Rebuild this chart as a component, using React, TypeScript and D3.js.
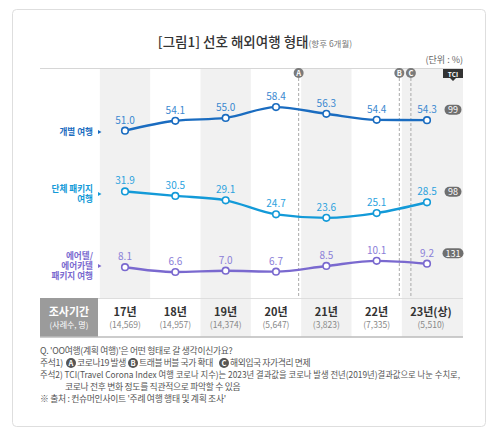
import React, { useRef, useEffect } from 'react';
import * as d3 from 'd3';

const years = ['17년', '18년', '19년', '20년', '21년', '22년', '23년(상)'];
const samples = ['(14,569)', '(14,957)', '(14,374)', '(5,647)', '(3,823)', '(7,335)', '(5,510)'];
const individual = [51.0, 54.1, 55.0, 58.4, 56.3, 54.4, 54.3];
const groupPackage = [31.9, 30.5, 29.1, 24.7, 23.6, 25.1, 28.5];
const airtel = [8.1, 6.6, 7.0, 6.7, 8.5, 10.1, 9.2];
const tci = ['99', '98', '131'];
const seriesNames = [['개별 여행'], ['단체 패키지', '여행'], ['에어텔/', '에어카텔', '패키지 여행']];
const events = [
  { label: 'A', pos: 3.45 },
  { label: 'B', pos: 5.45 },
  { label: 'C', pos: 5.68 },
];
const notes = [
  "Q. 'OO여행(계획 여행)'은 어떤 형태로 갈 생각이신가요?",
  '주석2) TCI(Travel Corona Index 여행 코로나 지수)는 2023년 결과값을 코로나 발생 전년(2019년)결과값으로 나눈 수치로,',
  '코로나 전후 변화 정도를 직관적으로 파악할 수 있음',
  "※ 출처 : 컨슈머인사이트 '주례 여행 행태 및 계획 조사'",
];
const footnote1 = [
  { letter: 'A', text: '코로나19 발생' },
  { letter: 'B', text: '트래블 버블 국가 확대' },
  { letter: 'C', text: '해외입국 자가격리 면제' },
];

const FONT = "'Noto Sans CJK KR', 'Noto Sans', sans-serif";

const App: React.FC = () => {
  const svgRef = useRef<SVGSVGElement>(null);
  const width = 500;
  const height = 429;

  useEffect(() => {
    if (!svgRef.current) return;
    const svg = d3.select(svgRef.current);
    svg.selectAll('*').remove();
    svg.style('font-family', FONT);

    const plotTop = 68;
    const rowTop = 298;
    const rowBottom = 337;
    const left = 40;
    const right = 463;

    const x = d3.scalePoint<string>().domain(years).range([125, 427]);
    const step = x.step();
    const xIdx = d3.scaleLinear().domain([0, years.length - 1]).range([125, 427]);
    const y = d3.scaleLinear().domain([0, 60]).range([293, 102]);

    // card
    svg.append('rect')
      .attr('x', 12.5).attr('y', 9.5)
      .attr('width', 473).attr('height', 417)
      .attr('rx', 4)
      .attr('fill', '#fff')
      .attr('stroke', '#dedede');

    // title
    const title = svg.append('text')
      .attr('x', 255).attr('y', 47)
      .attr('text-anchor', 'middle')
      .attr('fill', '#333');
    title.append('tspan').attr('font-size', 13.5).attr('font-weight', 500).text('[그림1] 선호 해외여행 형태');
    title.append('tspan').attr('font-size', 8.5).attr('fill', '#777').text('(향후 6개월)');

    svg.append('text')
      .attr('x', right).attr('y', 63)
      .attr('text-anchor', 'end')
      .attr('font-size', 9)
      .attr('fill', '#666')
      .text('(단위 : %)');

    // shaded columns
    years.forEach((yr, i) => {
      if (i % 2 !== 0) return;
      const cx = x(yr)!;
      const x0 = cx - step / 2;
      const x1 = i === years.length - 1 ? right : cx + step / 2;
      svg.append('rect')
        .attr('x', x0).attr('y', plotTop)
        .attr('width', x1 - x0).attr('height', rowTop - plotTop)
        .attr('fill', '#f1f1f1');
      if (i > 0) {
        svg.append('rect')
          .attr('x', x0).attr('y', rowTop)
          .attr('width', x1 - x0).attr('height', rowBottom - rowTop)
          .attr('fill', '#f1f1f1');
      }
    });

    svg.append('line')
      .attr('x1', left).attr('x2', right)
      .attr('y1', plotTop + 0.5).attr('y2', plotTop + 0.5)
      .attr('stroke', '#d6d6d6');

    // event markers
    events.forEach(ev => {
      const ex = xIdx(ev.pos);
      svg.append('line')
        .attr('x1', ex).attr('x2', ex)
        .attr('y1', 78).attr('y2', rowTop)
        .attr('stroke', '#aaa')
        .attr('stroke-dasharray', '3,2');
      svg.append('circle')
        .attr('cx', ex).attr('cy', 73).attr('r', 5)
        .attr('fill', '#7a7a7a');
      svg.append('text')
        .attr('x', ex).attr('y', 76)
        .attr('text-anchor', 'middle')
        .attr('font-size', 7.5).attr('font-weight', 700)
        .attr('fill', '#fff')
        .text(ev.label);
    });

    // TCI badge
    const tx = 453;
    svg.append('path')
      .attr('d', `M${tx - 10},69 H${tx + 10} V78 H${tx + 3} L${tx},81 L${tx - 3},78 H${tx - 10} Z`)
      .attr('fill', '#333');
    svg.append('text')
      .attr('x', tx).attr('y', 76.5)
      .attr('text-anchor', 'middle')
      .attr('font-size', 6.5).attr('font-weight', 700)
      .attr('fill', '#fff')
      .text('TCI');

    const series = [
      { values: individual, line: '#1a6cc0', label: '#3a88d0', name: seriesNames[0], tci: tci[0], nameY: 132 },
      { values: groupPackage, line: '#139ad8', label: '#2ba2de', name: seriesNames[1], tci: tci[1], nameY: 189 },
      { values: airtel, line: '#7a69cf', label: '#8b80d8', name: seriesNames[2], tci: tci[2], nameY: 256 },
    ];

    const line = d3.line<number>()
      .x((_, i) => x(years[i])!)
      .y(d => y(d))
      .curve(d3.curveMonotoneX);

    const nameGap = 10;

    series.forEach(s => {
      svg.append('path')
        .datum(s.values)
        .attr('fill', 'none')
        .attr('stroke', s.line)
        .attr('stroke-width', 2.4)
        .attr('d', line);

      svg.selectAll(null)
        .data(s.values)
        .enter()
        .append('circle')
        .attr('cx', (_, i) => x(years[i])!)
        .attr('cy', d => y(d))
        .attr('r', 3.3)
        .attr('fill', '#fff')
        .attr('stroke', s.line)
        .attr('stroke-width', 1.6);

      svg.selectAll(null)
        .data(s.values)
        .enter()
        .append('text')
        .attr('x', (_, i) => x(years[i])!)
        .attr('y', d => y(d) - 7)
        .attr('text-anchor', 'middle')
        .attr('font-size', 10)
        .attr('fill', s.label)
        .text(d => d.toFixed(1));

      // series name
      s.name.forEach((n, j) => {
        svg.append('text')
          .attr('x', 93).attr('y', s.nameY + j * nameGap + 3.2)
          .attr('text-anchor', 'end')
          .attr('font-size', 8.6).attr('font-weight', 700)
          .attr('fill', s.line)
          .text(n);
      });
      const ty = s.nameY + ((s.name.length - 1) * nameGap) / 2;
      svg.append('path')
        .attr('d', `M98,${ty - 2} L101.5,${ty} L98,${ty + 2} Z`)
        .attr('fill', s.line);

      // TCI pill
      const last = s.values[s.values.length - 1];
      const py = y(last) - 10.5;
      const pw = s.tci.length > 2 ? 21 : 17;
      svg.append('rect')
        .attr('x', tx - pw / 2).attr('y', py - 5)
        .attr('width', pw).attr('height', 10)
        .attr('rx', 5)
        .attr('fill', '#6f6f6f');
      svg.append('text')
        .attr('x', tx).attr('y', py + 3.3)
        .attr('text-anchor', 'middle')
        .attr('font-size', 9)
        .attr('fill', '#fff')
        .text(s.tci);
    });

    // bottom row
    svg.append('line')
      .attr('x1', left).attr('x2', right)
      .attr('y1', rowTop + 0.5).attr('y2', rowTop + 0.5)
      .attr('stroke', '#ddd');
    svg.append('rect')
      .attr('x', left).attr('y', rowTop)
      .attr('width', 58).attr('height', rowBottom - rowTop)
      .attr('fill', '#9b9b9b');
    svg.append('text')
      .attr('x', left + 29).attr('y', 316)
      .attr('text-anchor', 'middle')
      .attr('font-size', 11).attr('font-weight', 700)
      .attr('fill', '#fff')
      .text('조사기간');
    svg.append('text')
      .attr('x', left + 29).attr('y', 328)
      .attr('text-anchor', 'middle')
      .attr('font-size', 8)
      .attr('fill', '#fff')
      .text('(사례수, 명)');
    svg.append('line')
      .attr('x1', left).attr('x2', right)
      .attr('y1', rowBottom).attr('y2', rowBottom)
      .attr('stroke', '#bbb').attr('stroke-width', 1.5);

    years.forEach((yr, i) => {
      const cx = i === years.length - 1 ? x(yr)! + 4 : x(yr)!;
      svg.append('text')
        .attr('x', cx).attr('y', 316)
        .attr('text-anchor', 'middle')
        .attr('font-size', 11).attr('font-weight', 700)
        .attr('fill', '#333')
        .text(yr);
      svg.append('text')
        .attr('x', cx).attr('y', 328)
        .attr('text-anchor', 'middle')
        .attr('font-size', 8.5)
        .attr('fill', '#888')
        .text(samples[i]);
    });

    // notes
    const noteFs = 8.8;
    const noteColor = '#555';
    svg.append('text')
      .attr('x', left).attr('y', 354)
      .attr('font-size', noteFs).attr('fill', noteColor)
      .attr('letter-spacing', -0.3)
      .text(notes[0]);

    const n1 = svg.append('g');
    n1.append('text')
      .attr('x', left).attr('y', 366)
      .attr('font-size', noteFs).attr('fill', noteColor)
      .attr('letter-spacing', -0.3)
      .text('주석1)');
    const starts = [66, 128, 219];
    footnote1.forEach((f, i) => {
      const fx = starts[i];
      n1.append('circle')
        .attr('cx', fx + 5).attr('cy', 363).attr('r', 5)
        .attr('fill', '#555');
      n1.append('text')
        .attr('x', fx + 5).attr('y', 366)
        .attr('text-anchor', 'middle')
        .attr('font-size', 7.5).attr('font-weight', 700)
        .attr('fill', '#fff')
        .text(f.letter);
      n1.append('text')
        .attr('x', fx + 11).attr('y', 366)
        .attr('font-size', noteFs).attr('fill', noteColor)
        .attr('letter-spacing', -0.4)
        .text(f.text);
    });

    svg.append('text')
      .attr('x', left).attr('y', 378)
      .attr('font-size', noteFs).attr('fill', noteColor)
      .attr('textLength', 420).attr('lengthAdjust', 'spacingAndGlyphs')
      .text(notes[1]);
    svg.append('text')
      .attr('x', 65).attr('y', 390)
      .attr('font-size', noteFs).attr('fill', noteColor)
      .attr('letter-spacing', -0.3)
      .text(notes[2]);
    svg.append('text')
      .attr('x', left).attr('y', 402)
      .attr('font-size', noteFs).attr('fill', noteColor)
      .attr('letter-spacing', -0.3)
      .text(notes[3]);
  }, []);

  return (
    <svg
      ref={svgRef}
      width={width}
      height={height}
      style={{ display: 'block', position: 'absolute', left: 0, top: 0, background: '#fff' }}
    />
  );
};

export default App;
